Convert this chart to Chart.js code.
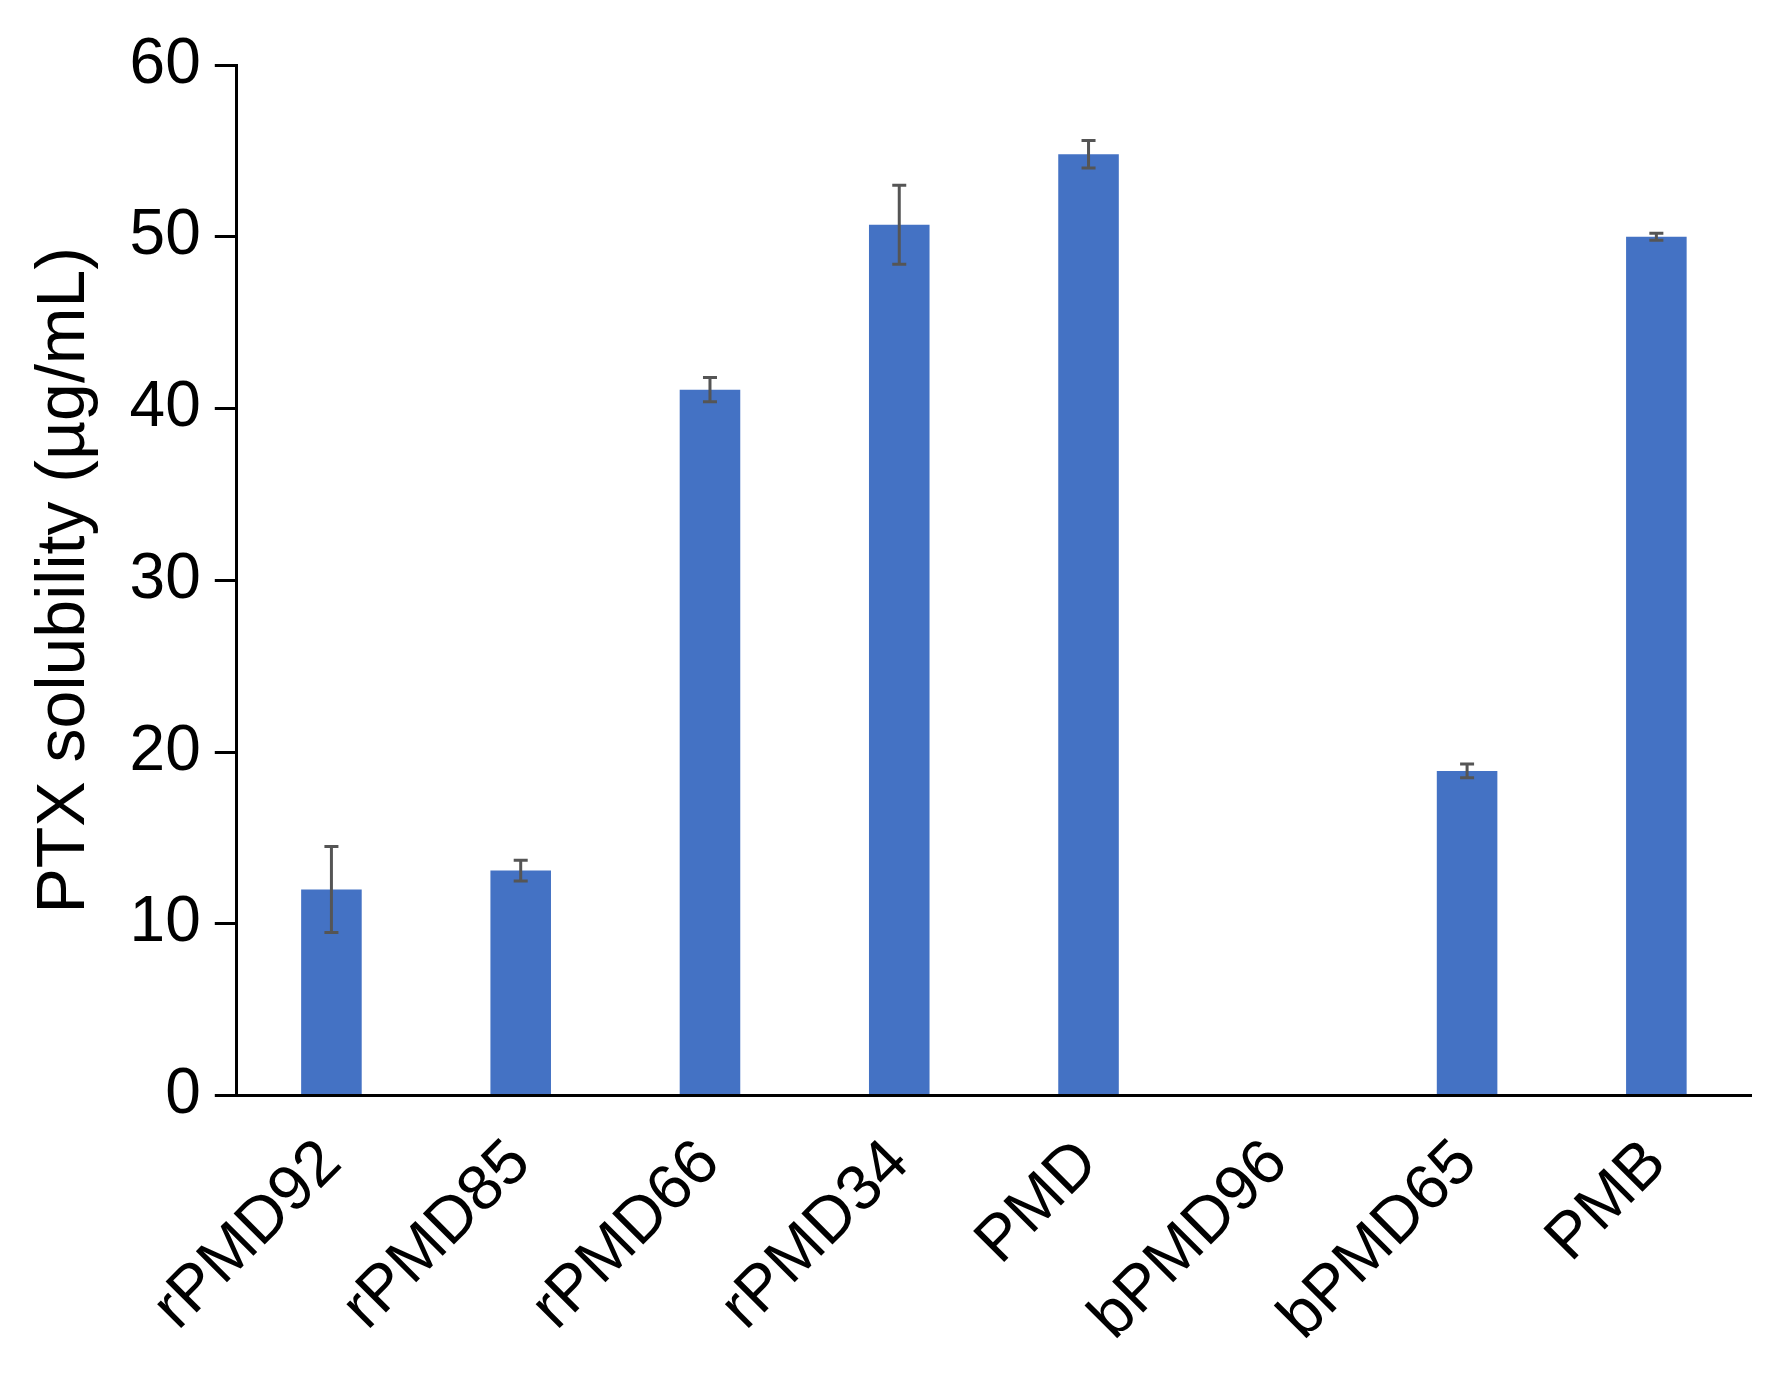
<!DOCTYPE html>
<html>
<head>
<meta charset="utf-8">
<style>
  html, body { margin: 0; padding: 0; background: #fff; }
  #wrap { width: 1776px; height: 1396px; }
</style>
</head>
<body>
<div id="wrap"><canvas id="chart"></canvas></div>
<script src="https://cdn.jsdelivr.net/npm/chart.js@4.4.0/dist/chart.umd.min.js"></script>
<script>
const categories = ['rPMD92', 'rPMD85', 'rPMD66', 'rPMD34', 'PMD', 'bPMD96', 'bPMD65', 'PMB'];
const solubility = [12.0, 13.1, 41.1, 50.7, 54.8, 0, 18.9, 50.0];
const errors = [2.5, 0.6, 0.7, 2.3, 0.8, 0, 0.4, 0.2];
const yTicks = [0, 10, 20, 30, 40, 50, 60];

const errorBars = {
  id: 'errorBars',
  afterDatasetsDraw(chart) {
    const ctx = chart.ctx;
    const y = chart.scales.y;
    const meta = chart.getDatasetMeta(0);
    ctx.save();
    ctx.strokeStyle = '#555';
    ctx.lineWidth = 3;
    meta.data.forEach((bar, i) => {
      if (!errors[i]) return;
      const x = bar.x;
      const top = y.getPixelForValue(solubility[i] + errors[i]);
      const bot = y.getPixelForValue(solubility[i] - errors[i]);
      ctx.beginPath();
      ctx.moveTo(x, top); ctx.lineTo(x, bot);
      ctx.moveTo(x - 7, top); ctx.lineTo(x + 7, top);
      ctx.moveTo(x - 7, bot); ctx.lineTo(x + 7, bot);
      ctx.stroke();
    });
    ctx.restore();
  }
};

new Chart(document.getElementById('chart'), {
  type: 'bar',
  data: {
    labels: categories,
    datasets: [{
      data: solubility,
      backgroundColor: '#4472C4',
      barPercentage: 0.32,
      categoryPercentage: 1.0
    }]
  },
  options: {
    responsive: true,
    maintainAspectRatio: false,
    animation: false,
    layout: { padding: { top: 65, right: 25, left: 20, bottom: 10 } },
    plugins: { legend: { display: false }, tooltip: { enabled: false } },
    scales: {
      x: {
        grid: { display: false, drawTicks: false },
        border: { color: '#000', width: 3 },
        ticks: {
          color: '#000', maxRotation: 45, minRotation: 45, padding: 30,
          font: { family: 'Liberation Sans', size: 64 }
        }
      },
      y: {
        min: 0, max: 60,
        afterBuildTicks(axis) { axis.ticks = yTicks.map(v => ({ value: v })); },
        grid: { display: true, drawOnChartArea: false, drawTicks: true, tickLength: 22, color: '#000', lineWidth: 3 },
        border: { color: '#000', width: 3 },
        ticks: { color: '#000', padding: 14, font: { family: 'Liberation Sans', size: 64 } },
        title: {
          display: true, text: 'PTX solubility (µg/mL)', color: '#000',
          font: { family: 'Liberation Sans', size: 68 }, padding: { bottom: 10 }
        }
      }
    }
  },
  plugins: [errorBars]
});
</script>
</body>
</html>
